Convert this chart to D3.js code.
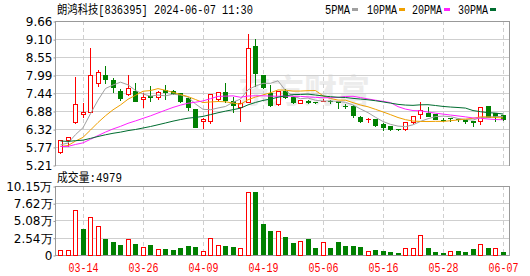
<!DOCTYPE html>
<html>
<head>
<meta charset="utf-8">
<script src="https://cdn.jsdelivr.net/npm/d3@7/dist/d3.min.js"></script>
<style>
body { margin: 0; background: #fff; }
svg { display: block; }
</style>
</head>
<body>
<svg id="chart" width="530" height="276"></svg>
<script>
// title bits
var stockTitle = "朗鸿科技[836395] 2024-06-07 11:30";
var volTitle = "成交量:4979";

// one entry per trading day, 03-11 .. 06-07
var dates = ["03-11","03-12","03-13","03-14","03-15","03-18","03-19","03-20","03-21","03-22",
             "03-25","03-26","03-27","03-28","03-29","04-01","04-02","04-03","04-08","04-09",
             "04-10","04-11","04-12","04-15","04-16","04-17","04-18","04-19","04-22","04-23",
             "04-24","04-25","04-26","04-29","04-30","05-06","05-07","05-08","05-09","05-10",
             "05-13","05-14","05-15","05-16","05-17","05-20","05-21","05-22","05-23","05-24",
             "05-27","05-28","05-29","05-30","05-31","06-03","06-04","06-05","06-06","06-07"];

var openP  = [5.60,5.99,6.53,6.80,6.86,7.73,7.99,7.84,7.50,7.40,
              7.50,7.24,7.35,7.30,7.52,7.49,7.42,7.27,6.95,6.57,
              6.58,7.24,7.47,7.20,6.99,7.17,8.89,7.99,7.43,7.09,
              7.51,7.30,7.13,7.19,7.17,7.20,7.19,7.18,7.03,7.03,
              6.70,6.62,6.63,6.48,6.42,6.33,6.31,6.53,6.80,6.83,
              6.79,6.61,6.66,6.63,6.59,6.56,6.57,7.02,6.81,6.76];
var highP  = [6.00,6.08,7.97,7.15,8.85,8.18,8.30,7.92,7.58,8.02,
              7.79,7.48,7.68,7.54,7.70,7.55,7.45,7.33,6.97,6.68,
              7.45,7.48,7.78,7.33,7.25,9.30,9.12,8.01,7.71,7.53,
              7.60,7.37,7.25,7.25,7.20,7.27,7.26,7.20,7.12,7.08,
              6.76,6.68,6.67,6.53,6.45,6.36,6.54,6.74,7.19,7.03,
              6.80,6.68,6.70,6.66,6.61,6.58,7.03,7.06,6.81,6.78];
var lowP   = [5.59,5.80,6.52,6.70,6.86,7.66,7.75,7.48,7.21,7.38,
              7.20,7.01,7.20,7.26,7.26,7.40,7.16,6.91,6.38,6.36,
              6.51,7.18,7.16,6.85,6.58,7.17,7.65,7.58,7.04,7.07,
              7.27,7.12,7.12,7.13,7.12,7.18,7.12,6.96,6.96,6.70,
              6.55,6.55,6.40,6.29,6.29,6.29,6.30,6.52,6.67,6.72,
              6.62,6.57,6.58,6.58,6.50,6.41,6.47,6.68,6.57,6.60];
var closeP = [5.98,6.07,7.09,6.85,7.99,8.07,7.87,7.63,7.29,7.58,
              7.20,7.32,7.30,7.46,7.46,7.45,7.19,6.99,6.39,6.63,
              7.39,7.46,7.22,7.05,7.12,8.82,8.04,7.63,7.06,7.51,
              7.32,7.17,7.23,7.17,7.16,7.20,7.19,7.16,7.02,6.76,
              6.58,6.62,6.44,6.37,6.32,6.31,6.53,6.73,6.90,6.73,
              6.64,6.60,6.65,6.62,6.58,6.54,6.99,6.70,6.71,6.62];
var volume = [6800,6800,66400,37600,56100,43000,23000,18600,14200,23900,
              15600,12200,14200,9300,8300,6800,9800,12700,11200,6300,
              25400,15100,12700,11200,10700,92800,93300,44900,34700,34700,
              26400,17600,20000,23000,10300,18600,10300,19000,13200,13200,
              11700,5400,6800,5900,4400,2400,10700,10700,28800,9800,
              4400,2400,5400,5400,4400,8300,15600,10300,9800,4979];

// closes before 03-11 (estimated), only used so the averages start where the picture does
var prevCloses = [6.45,6.40,6.38,6.35,6.30,6.28,6.25,6.22,6.18,6.15,
                  5.95,5.90,5.85,5.80,5.75,5.72,5.70,5.68,5.70,5.72,
                  5.75,5.73,5.70,5.72,5.75,5.78,5.80,5.78,5.82];

var priceTicks = [5.21,5.77,6.32,6.88,7.44,7.99,8.55,9.10,9.66];
var volTicks = [0,25400,50800,76200,101500];
var volTickLabels = ["0","2.54万","5.08万","7.62万","10.15万"];
var dateTicks = ["03-14","03-26","04-09","04-19","05-06","05-16","05-28","06-07"];

var maNames = ["5PMA","10PMA","20PMA","30PMA"];
var maPeriods = [5,10,20,30];
var maColors = ["#a0a0a0","#f0a000","#ff22ff","#006d30"];

var RED = "#ff0000", GREEN = "#008000";
var gridColor = "#cfcfcf", frameColor = "#999999";

var svg = d3.select("#chart");
var left = 55.5, right = 509.5;
var mainTop = 21, mainBottom = 165;
var volTop = 186, volBottom = 255;

var x = d3.scalePoint().domain(dates).range([60, 502.5]);
var y = d3.scaleLinear().domain([5.21, 9.66]).range([mainBottom, mainTop]);
var yv = d3.scaleLinear().domain([0, 101500]).range([volBottom, volTop]);

function cx(i) { return Math.round(x(dates[i])); }
function py(v) { return Math.round(y(v)) + 0.5; }
function vy(v) { return Math.round(yv(v)) + 0.5; }

var monoFont = "'Liberation Mono','Noto Sans CJK SC',monospace";
var axisFont = "'DejaVu Sans',sans-serif";

// ---- titles and legend
svg.append("text").attr("x", 57).attr("y", 14)
  .attr("font-family", monoFont).attr("font-size", 12)
  .attr("textLength", 196).attr("lengthAdjust", "spacingAndGlyphs")
  .text(stockTitle);

var legendX = [325, 367, 412, 458];
var legendW = [25, 30, 30, 30];
maNames.forEach(function(n, k) {
  svg.append("text").attr("x", legendX[k]).attr("y", 14)
    .attr("font-family", monoFont).attr("font-size", 12)
    .attr("textLength", legendW[k]).attr("lengthAdjust", "spacingAndGlyphs")
    .text(n);
  svg.append("rect").attr("x", legendX[k] + legendW[k] + 2).attr("y", 8)
    .attr("width", 6).attr("height", 3).attr("fill", maColors[k]);
});

svg.append("text").attr("x", 57).attr("y", 182)
  .attr("font-family", monoFont).attr("font-size", 12)
  .attr("textLength", 65).attr("lengthAdjust", "spacingAndGlyphs")
  .text(volTitle);

// ---- watermark
svg.append("text").attr("x", 238).attr("y", 103)
  .attr("font-family", "'Noto Sans CJK SC'").attr("font-weight", "bold")
  .attr("font-size", 33).attr("fill", "#ececec")
  .text("东方财富");

// ---- grids
function panel(top, bottom, ticks, scale) {
  var g = svg.append("g").attr("shape-rendering", "crispEdges");
  g.selectAll("line.h").data(ticks).enter().append("line")
    .attr("x1", left).attr("x2", right)
    .attr("y1", function(d) { return Math.round(scale(d)) + 0.5; })
    .attr("y2", function(d) { return Math.round(scale(d)) + 0.5; })
    .attr("stroke", gridColor);
  g.selectAll("line.v").data(dateTicks).enter().append("line")
    .attr("x1", function(d) { return Math.round(x(d)) + 0.5; })
    .attr("x2", function(d) { return Math.round(x(d)) + 0.5; })
    .attr("y1", top).attr("y2", bottom)
    .attr("stroke", gridColor).attr("stroke-dasharray", "4,3");
  g.append("path")
    .attr("d", "M" + left + "," + (bottom + 0.5) + "V" + (top + 0.5) + "H" + right + "V" + (bottom + 0.5))
    .attr("fill", "none").attr("stroke", frameColor);
  return g;
}
panel(mainTop, mainBottom, priceTicks, y);
var vpanel = panel(volTop, volBottom, volTicks, yv);
vpanel.append("line").attr("x1", left).attr("x2", right)
  .attr("y1", volBottom + 0.5).attr("y2", volBottom + 0.5).attr("stroke", frameColor);

// ---- axes (labels only, the frame is drawn above)
var yAxis = d3.axisLeft(y).tickValues(priceTicks).tickSize(2).tickPadding(1)
  .tickFormat(function(d) { return d.toFixed(2); });
svg.append("g").attr("transform", "translate(" + left + ",0.5)").call(yAxis)
  .call(function(g) { g.select(".domain").remove(); });

var vAxis = d3.axisLeft(yv).tickValues(volTicks).tickSize(2).tickPadding(1)
  .tickFormat(function(d, i) { return volTickLabels[i]; });
svg.append("g").attr("transform", "translate(" + left + ",0.5)").call(vAxis)
  .call(function(g) { g.select(".domain").remove(); });

svg.selectAll(".tick text").attr("font-family", axisFont).attr("font-size", 12).attr("fill", "#000");
svg.selectAll(".tick line").attr("stroke", frameColor);

var xAxis = d3.axisBottom(x).tickValues(dateTicks).tickSize(0).tickPadding(7);
svg.append("g").attr("transform", "translate(0.5," + (volBottom + 1) + ")").call(xAxis)
  .call(function(g) {
    g.select(".domain").remove();
    g.selectAll("text").attr("font-family", monoFont).attr("font-size", 12)
      .attr("fill", RED).attr("textLength", 30).attr("lengthAdjust", "spacingAndGlyphs");
  });

// ---- candles
var idx = d3.range(dates.length);
function prevClose(i) { return i === 0 ? openP[0] : closeP[i - 1]; }
function candleColor(i) {
  if (closeP[i] > openP[i]) return RED;
  if (closeP[i] < openP[i]) return GREEN;
  return closeP[i] >= prevClose(i) ? RED : GREEN;
}

var cg = svg.append("g").attr("shape-rendering", "crispEdges");
cg.selectAll("line.wick").data(idx).enter().append("line")
  .attr("x1", function(i) { return cx(i) + 0.5; })
  .attr("x2", function(i) { return cx(i) + 0.5; })
  .attr("y1", function(i) { return py(highP[i]); })
  .attr("y2", function(i) { return py(lowP[i]); })
  .attr("stroke", candleColor);

cg.selectAll("rect.body").data(idx).enter().append("rect")
  .each(function(i) {
    var r = d3.select(this);
    var t = py(Math.max(openP[i], closeP[i])), b = py(Math.min(openP[i], closeP[i]));
    if (closeP[i] > openP[i]) {
      r.attr("x", cx(i) - 1.5).attr("width", 4)
        .attr("y", t).attr("height", Math.max(1, b - t))
        .attr("fill", "#fff").attr("stroke", RED);
    } else {
      r.attr("x", cx(i) - 2).attr("width", 5)
        .attr("y", t - 0.5).attr("height", Math.max(1, b - t + 1))
        .attr("fill", candleColor(i));
    }
  });

// ---- moving averages
var allCloses = prevCloses.concat(closeP);
var off = prevCloses.length;
maPeriods.forEach(function(n, k) {
  var ma = idx.map(function(i) {
    return d3.mean(allCloses.slice(off + i - n + 1, off + i + 1));
  });
  svg.append("path")
    .datum(ma)
    .attr("fill", "none").attr("stroke", maColors[k]).attr("stroke-width", 1)
    .attr("d", d3.line()
      .x(function(d, i) { return x(dates[i]) + 0.5; })
      .y(function(d) { return y(d); }));
});

// ---- volume bars
var vg = svg.append("g").attr("shape-rendering", "crispEdges");
vg.selectAll("rect").data(idx).enter().append("rect")
  .each(function(i) {
    var r = d3.select(this);
    var up = closeP[i] > prevClose(i);
    var t = vy(volume[i]);
    if (up) {
      r.attr("x", cx(i) - 1.5).attr("width", 4)
        .attr("y", t).attr("height", volBottom - t)
        .attr("fill", "#fff").attr("stroke", RED);
    } else {
      r.attr("x", cx(i) - 2).attr("width", 5)
        .attr("y", t - 0.5).attr("height", volBottom - t + 0.5)
        .attr("fill", GREEN);
    }
  });
</script>
</body>
</html>
